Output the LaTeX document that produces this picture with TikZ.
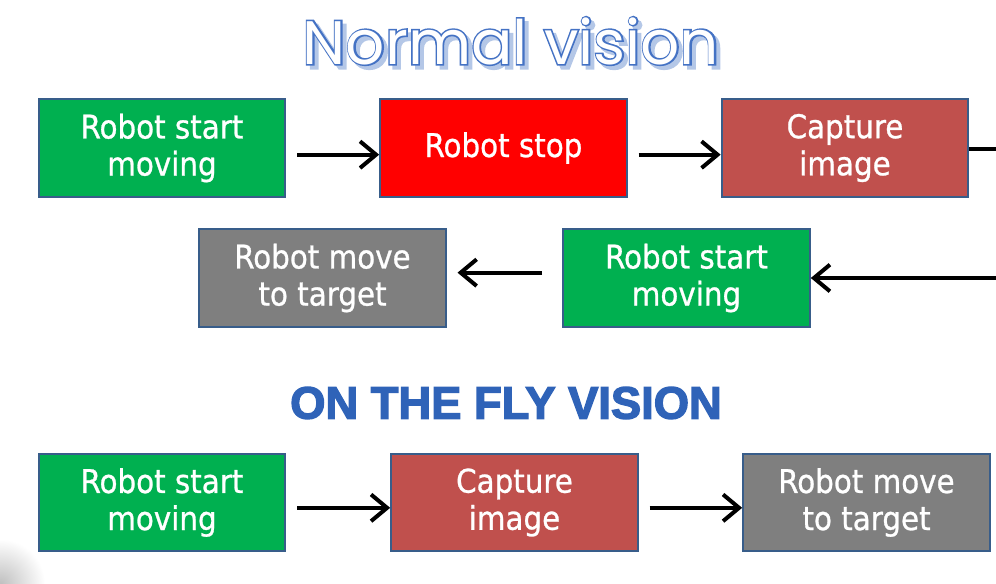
\documentclass[tikz,border=0pt]{standalone}
\usepackage{fontspec}
\usetikzlibrary{arrows.meta}
\setmainfont[FakeBold=0.8]{DejaVu Sans Condensed}
\newfontfamily\titlefont{Poppins}
\newfontfamily\titleoutline[FakeBold=5]{Poppins}
\newfontfamily\flyfont[FakeBold=3]{Liberation Sans Bold}
\definecolor{bgreen}{HTML}{00B050}
\definecolor{bred}{HTML}{FF0000}
\definecolor{bbrown}{HTML}{C0504D}
\definecolor{bgray}{HTML}{7F7F7F}
\definecolor{bborder}{HTML}{385D8A}
\definecolor{tblue}{HTML}{4472C4}
\definecolor{tshadow}{HTML}{B4C7E7}
\definecolor{flyblue}{HTML}{2F63B8}
\newcommand\outlinedtitle[1]{%
  \makebox[0pt][l]{\hspace{3pt}\raisebox{-3pt}{\titleoutline\color{tshadow}#1}}%
  \makebox[0pt][l]{\titleoutline\color{tblue}#1}%
  {\titlefont\color{white}#1}}
\begin{document}
\begin{tikzpicture}[x=0.75pt,y=-0.75pt,
  box/.style={draw=bborder, line width=1.5pt, minimum width=185pt, minimum height=73pt,
    inner sep=0pt, align=center, text=white, font=\fontsize{24.5}{27.8}\selectfont},
  arr/.style={line width=3pt, -{Straight Barb[length=12pt,width=20pt,line width=3pt]}},
  plain/.style={line width=3pt}]
\useasboundingbox (0,0) rectangle (996,584);
% faint corner shadow
\shade[inner color=black!25, outer color=white] (0,584) circle[radius=45];
% titles
\node (t1) at (511,43) {\fontsize{46}{50}\selectfont\outlinedtitle{Normal vision}};
\node[text=flyblue] (t2) at (506,403) {\flyfont\fontsize{34}{40}\selectfont ON THE FLY VISION};
% row 1
\node[box, fill=bgreen] (b1) at (162,148) {Robot start\\moving};
\node[box, fill=bred]   (b2) at (503.5,148) {Robot stop};
\node[box, fill=bbrown] (b3) at (845,148) {Capture\\image};
% row 2
\node[box, fill=bgray]  (b4) at (322.5,278) {Robot move\\to target};
\node[box, fill=bgreen] (b5) at (686.5,278) {Robot start\\moving};
% row 3
\node[box, fill=bgreen] (b6) at (162,502.5) {Robot start\\moving};
\node[box, fill=bbrown] (b7) at (514.5,502.5) {Capture\\image};
\node[box, fill=bgray]  (b8) at (866.5,502.5) {Robot move\\to target};
% edge coordinates
\coordinate (e1) at (997,149);
\coordinate (e2) at (997,278);
% connectors
\draw[arr, shorten <=8pt] ([yshift=-5pt]b1.east) -- ([yshift=-5pt]b2.west);
\draw[arr, shorten <=8pt] ([yshift=-5pt]b2.east) -- ([yshift=-5pt]b3.west);
\draw[plain] (b3.east |- e1) -- (e1);
\draw[arr] (e2) -- (b5.east);
\draw[arr, shorten <=15pt, shorten >=8pt] ([yshift=4pt]b5.west) -- ([yshift=4pt]b4.east);
\draw[arr, shorten <=8pt] ([yshift=-4pt]b6.east) -- ([yshift=-4pt]b7.west);
\draw[arr, shorten <=8pt] ([yshift=-4pt]b7.east) -- ([yshift=-4pt]b8.west);
\end{tikzpicture}
\end{document}
